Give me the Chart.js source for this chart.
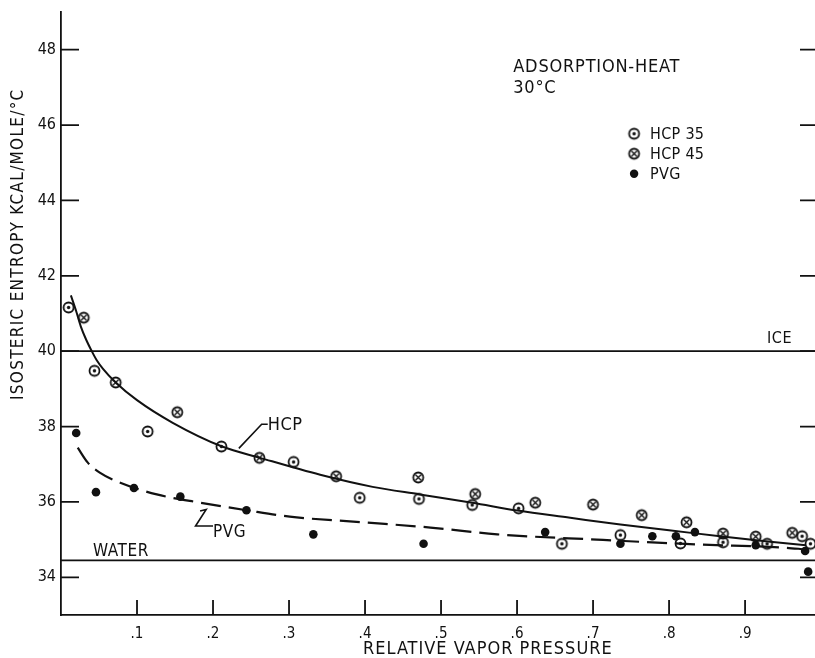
<!DOCTYPE html>
<html>
<head>
<meta charset="utf-8">
<script src="https://cdn.jsdelivr.net/npm/chart.js@4.4.1/dist/chart.umd.min.js"></script>
<style>
  html, body { margin: 0; padding: 0; background: #fff; }
  #wrap { width: 815px; height: 658px; position: relative; }
</style>
</head>
<body>
<div id="wrap"><canvas id="entropyChart"></canvas></div>
<script>
/* ============================================
   Isosteric entropy vs relative vapor pressure
   (adsorption heat, 30 °C)
   ============================================ */

const xTickValues = [0.1, 0.2, 0.3, 0.4, 0.5, 0.6, 0.7, 0.8, 0.9];
const yTickValues = [34, 36, 38, 40, 42, 44, 46, 48];

// measured points
const hcp35X = [0.010, 0.044, 0.114, 0.211, 0.306, 0.393, 0.471, 0.541, 0.602, 0.659, 0.736, 0.815, 0.871, 0.929, 0.975, 0.986];
const hcp35Y = [41.16, 39.48, 37.87, 37.47, 37.06, 36.11, 36.08, 35.92, 35.83, 34.89, 35.12, 34.90, 34.93, 34.89, 35.09, 34.89];

const hcp45X = [0.030, 0.072, 0.153, 0.261, 0.362, 0.470, 0.545, 0.624, 0.700, 0.764, 0.823, 0.871, 0.914, 0.962];
const hcp45Y = [40.89, 39.17, 38.38, 37.17, 36.68, 36.65, 36.21, 35.98, 35.93, 35.65, 35.46, 35.16, 35.08, 35.18];

const pvgX = [0.020, 0.046, 0.096, 0.157, 0.244, 0.332, 0.477, 0.637, 0.736, 0.778, 0.809, 0.834, 0.914, 0.979, 0.983];
const pvgY = [37.83, 36.26, 36.37, 36.14, 35.78, 35.14, 34.89, 35.20, 34.89, 35.09, 35.09, 35.20, 34.85, 34.70, 34.15];

// hand-drawn fit curves
const hcpCurveX = [0.013, 0.020, 0.026, 0.033, 0.040, 0.047, 0.055, 0.072, 0.100, 0.147, 0.212, 0.262, 0.341, 0.410, 0.472, 0.541, 0.601, 0.670, 0.736, 0.800, 0.870, 0.930, 0.980];
const hcpCurveY = [41.48, 41.06, 40.66, 40.31, 40.02, 39.76, 39.54, 39.17, 38.70, 38.10, 37.47, 37.17, 36.72, 36.40, 36.20, 35.98, 35.77, 35.58, 35.40, 35.25, 35.08, 34.95, 34.85];

const pvgCurveX = [0.022, 0.035, 0.051, 0.078, 0.126, 0.183, 0.244, 0.301, 0.397, 0.486, 0.574, 0.705, 0.840, 0.950, 0.980];
const pvgCurveY = [37.44, 37.05, 36.78, 36.51, 36.20, 35.98, 35.78, 35.61, 35.46, 35.32, 35.14, 35.00, 34.87, 34.79, 34.74];

// reference levels
const iceLevel = 40.0;
const waterLevel = 34.45;

const X_MIN = 0, X_MAX = 0.992;
const Y_MIN = 33, Y_MAX = 49;

const INK = '#111111';
const FONT = "'DejaVu Sans Condensed', 'Liberation Sans Narrow', 'DejaVu Sans', sans-serif";

const zip = (xs, ys) => xs.map((v, i) => ({ x: v, y: ys[i] }));

/* marker glyphs: circle-dot and circle-cross */
function makeMarker(kind) {
  const c = document.createElement('canvas');
  c.width = 15; c.height = 15;
  const g = c.getContext('2d');
  g.strokeStyle = INK;
  g.fillStyle = INK;
  g.lineWidth = 1.8;
  g.beginPath();
  g.arc(7.5, 7.5, 5, 0, Math.PI * 2);
  g.stroke();
  if (kind === 'dot') {
    g.beginPath();
    g.arc(7.5, 7.5, 1.7, 0, Math.PI * 2);
    g.fill();
  } else {
    g.lineWidth = 1.4;
    g.beginPath();
    g.moveTo(4.5, 4.5); g.lineTo(10.5, 10.5);
    g.moveTo(10.5, 4.5); g.lineTo(4.5, 10.5);
    g.stroke();
  }
  return c;
}
const dotMarker = makeMarker('dot');
const crossMarker = makeMarker('cross');

/* -------------------------------------------------
   Text notes, leaders, inward ticks
   ------------------------------------------------- */
const notes = [
  { text: 'ADSORPTION-HEAT', x: 0.595, y: 47.42, size: 18, spacing: 0.8 },
  { text: '30°C', x: 0.595, y: 46.84, size: 18, spacing: 0.8 },
  { text: 'ICE', x: 0.929, y: 40.22, size: 16, spacing: 0.5 },
  { text: 'WATER', x: 0.042, y: 34.56, size: 17, spacing: 0.6 },
  { text: 'HCP', x: 0.272, y: 37.92, size: 18, spacing: 0.5 },
  { text: 'PVG', x: 0.200, y: 35.08, size: 17, spacing: 0.5 },
];
const leaders = [
  [[0.272, 38.06], [0.264, 38.06], [0.234, 37.42]],
  [[0.183, 35.76], [0.191, 35.80], [0.177, 35.36], [0.200, 35.36]],
];
const legendRows = [
  { label: 'HCP 35', marker: 'dot', y: 45.77 },
  { label: 'HCP 45', marker: 'cross', y: 45.24 },
  { label: 'PVG', marker: 'fill', y: 44.71 },
];

const inkDecor = {
  id: 'inkDecor',
  afterDraw(chart) {
    const { ctx, chartArea: area, scales: { x, y } } = chart;
    ctx.save();
    ctx.strokeStyle = INK;
    ctx.fillStyle = INK;
    ctx.lineWidth = 1.8;
    ctx.lineCap = 'butt';

    // ticks point into the plot
    ctx.beginPath();
    x.ticks.forEach(t => {
      const px = x.getPixelForValue(t.value);
      ctx.moveTo(px, area.bottom);
      ctx.lineTo(px, area.bottom - 15);
    });
    y.ticks.forEach(t => {
      const py = y.getPixelForValue(t.value);
      ctx.moveTo(area.left, py);
      ctx.lineTo(area.left + 18, py);
      ctx.moveTo(area.right, py);
      ctx.lineTo(area.right - 15, py);
    });
    ctx.stroke();

    // leader strokes for the curve labels
    ctx.lineWidth = 1.6;
    leaders.forEach(pts => {
      ctx.beginPath();
      pts.forEach(([vx, vy], i) => {
        const px = x.getPixelForValue(vx), py = y.getPixelForValue(vy);
        if (i === 0) ctx.moveTo(px, py); else ctx.lineTo(px, py);
      });
      ctx.stroke();
    });

    ctx.textBaseline = 'alphabetic';
    ctx.textAlign = 'left';
    notes.forEach(n => {
      ctx.font = n.size + 'px ' + FONT;
      ctx.letterSpacing = n.spacing + 'px';
      ctx.fillText(n.text, x.getPixelForValue(n.x), y.getPixelForValue(n.y));
    });

    // legend block
    const mx = x.getPixelForValue(0.754);
    const tx = x.getPixelForValue(0.775);
    ctx.font = '16px ' + FONT;
    ctx.letterSpacing = '0.3px';
    ctx.textBaseline = 'middle';
    legendRows.forEach(r => {
      const py = y.getPixelForValue(r.y);
      if (r.marker === 'fill') {
        ctx.beginPath();
        ctx.arc(mx, py, 4.2, 0, Math.PI * 2);
        ctx.fill();
      } else {
        const img = r.marker === 'dot' ? dotMarker : crossMarker;
        ctx.drawImage(img, mx - 7.5, py - 7.5);
      }
      ctx.fillText(r.label, tx, py + 1);
    });

    // axis titles
    ctx.textAlign = 'left';
    ctx.textBaseline = 'alphabetic';
    ctx.font = '18px ' + FONT;
    ctx.letterSpacing = '1px';
    ctx.fillText('RELATIVE VAPOR PRESSURE', 363, 654);

    ctx.translate(23, 400);
    ctx.rotate(-Math.PI / 2);
    ctx.font = '17px ' + FONT;
    ctx.letterSpacing = '1.3px';
    ctx.fillText('ISOSTERIC ENTROPY KCAL/MOLE/°C', 0, 0);
    ctx.restore();
  }
};

/* -------------------------------------------------
   Chart
   ------------------------------------------------- */
Chart.defaults.font.family = FONT;
Chart.defaults.color = INK;

const flatLine = (v) => [{ x: X_MIN, y: v }, { x: X_MAX, y: v }];

new Chart(document.getElementById('entropyChart'), {
  type: 'scatter',
  data: {
    datasets: [
      {
        label: 'ICE', type: 'line', data: flatLine(iceLevel),
        borderColor: INK, borderWidth: 1.8, pointRadius: 0
      },
      {
        label: 'WATER', type: 'line', data: flatLine(waterLevel),
        borderColor: INK, borderWidth: 1.8, pointRadius: 0
      },
      {
        label: 'HCP fit', type: 'line', data: zip(hcpCurveX, hcpCurveY),
        borderColor: INK, borderWidth: 2, pointRadius: 0,
        cubicInterpolationMode: 'monotone'
      },
      {
        label: 'PVG fit', type: 'line', data: zip(pvgCurveX, pvgCurveY),
        borderColor: INK, borderWidth: 2.2, pointRadius: 0,
        borderDash: [20, 8], cubicInterpolationMode: 'monotone'
      },
      {
        label: 'HCP 35', data: zip(hcp35X, hcp35Y),
        pointStyle: dotMarker, pointRadius: 6
      },
      {
        label: 'HCP 45', data: zip(hcp45X, hcp45Y),
        pointStyle: crossMarker, pointRadius: 6
      },
      {
        label: 'PVG', data: zip(pvgX, pvgY),
        pointStyle: 'circle', pointRadius: 4.3,
        backgroundColor: INK, borderColor: INK, borderWidth: 0
      }
    ]
  },
  options: {
    responsive: true,
    maintainAspectRatio: false,
    animation: false,
    layout: { autoPadding: false, padding: { top: 12, left: 0, right: 0, bottom: 0 } },
    plugins: {
      legend: { display: false },
      tooltip: { enabled: false }
    },
    scales: {
      x: {
        type: 'linear',
        min: X_MIN,
        max: X_MAX,
        afterBuildTicks: s => { s.ticks = xTickValues.map(v => ({ value: v })); },
        afterFit: s => { s.height = 43; s.paddingLeft = 0; s.paddingRight = 0; },
        grid: { drawOnChartArea: false, drawTicks: false },
        border: { display: true, color: INK, width: 1.8 },
        ticks: {
          padding: 10,
          maxRotation: 0,
          autoSkip: false,
          font: { size: 15 },
          callback: v => '.' + Math.round(v * 10)
        }
      },
      y: {
        type: 'linear',
        min: Y_MIN,
        max: Y_MAX,
        afterBuildTicks: s => { s.ticks = yTickValues.map(v => ({ value: v })); },
        afterFit: s => { s.width = 61; s.paddingTop = 0; s.paddingBottom = 0; },
        grid: { drawOnChartArea: false, drawTicks: false },
        border: { display: true, color: INK, width: 1.8 },
        ticks: {
          padding: 5,
          autoSkip: false,
          font: { size: 16 },
          callback: v => String(v)
        }
      }
    }
  },
  plugins: [inkDecor]
});
</script>
</body>
</html>
